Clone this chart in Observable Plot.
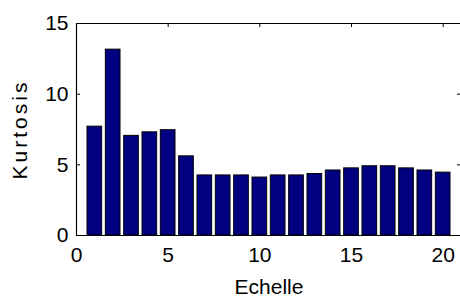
<!DOCTYPE html>
<html>
<head>
<meta charset="utf-8">
<script src="https://cdn.jsdelivr.net/npm/d3@7"></script>
<script src="https://cdn.jsdelivr.net/npm/@observablehq/plot@0.6"></script>
<style>
  html, body { margin: 0; padding: 0; background: #fff; }
  #chart svg { display: block; }
  g[aria-label="y-axis label"] text { letter-spacing: 3px; }
</style>
</head>
<body>
<div id="chart"></div>
<script>
const scales = [1, 2, 3, 4, 5, 6, 7, 8, 9, 10, 11, 12, 13, 14, 15, 16, 17, 18, 19, 20];
const kurtosis = [7.7, 13.15, 7.05, 7.3, 7.45, 5.6, 4.25, 4.25, 4.25, 4.1, 4.25, 4.25, 4.35, 4.6, 4.75, 4.9, 4.9, 4.75, 4.6, 4.45];
const xTicks = [0, 5, 10, 15, 20];
const yTicks = [0, 5, 10, 15];
const xLabel = "Echelle";
const yLabel = "Kurtosis";

const data = scales.map((s, i) => ({x: s, y: kurtosis[i]}));
const barHalf = 0.4;

const W = 460, H = 298, mL = 76, mR = -1, mT = 23, mB = 63;
const frameW = W - mL - mR, frameH = H - mT - mB, tickLen = 4;

const chart = Plot.plot({
  width: W,
  height: H,
  marginLeft: mL,
  marginRight: mR,
  marginTop: mT,
  marginBottom: mB,
  style: {fontFamily: "'Liberation Sans', Arial, sans-serif", fontSize: "21px", color: "#000", background: "#fff"},
  x: {domain: [0, 21]},
  y: {domain: [0, 15]},
  marks: [
    Plot.rectY(data, {x1: d => d.x - barHalf, x2: d => d.x + barHalf, y: "y", fill: "#000080", stroke: "#000", strokeWidth: 1}),
    Plot.ruleY([0, 15], {stroke: "#000", strokeWidth: 1.2}),
    Plot.ruleX([0], {stroke: "#000", strokeWidth: 1.2}),
    // inward tick marks (top, left, right)
    Plot.ruleX(xTicks.filter(t => t > 0), {stroke: "#000", strokeWidth: 1, insetBottom: frameH - tickLen}),
    Plot.ruleY(yTicks.filter(t => t > 0 && t < 15), {stroke: "#000", strokeWidth: 1, insetRight: frameW - tickLen}),
    Plot.ruleY(yTicks.filter(t => t > 0 && t < 15), {stroke: "#000", strokeWidth: 1, insetLeft: frameW - tickLen}),
    Plot.axisX({anchor: "bottom", ticks: xTicks, tickSize: 0, tickPadding: 12, fontSize: 21, label: xLabel, labelAnchor: "center", labelOffset: 58, labelArrow: "none"}),
    Plot.axisY({anchor: "left", ticks: yTicks, tickSize: 0, tickPadding: 8, fontSize: 21, label: yLabel, labelAnchor: "center", labelOffset: 64, labelArrow: "none"})
  ]
});
document.getElementById("chart").appendChild(chart);
</script>
</body>
</html>
